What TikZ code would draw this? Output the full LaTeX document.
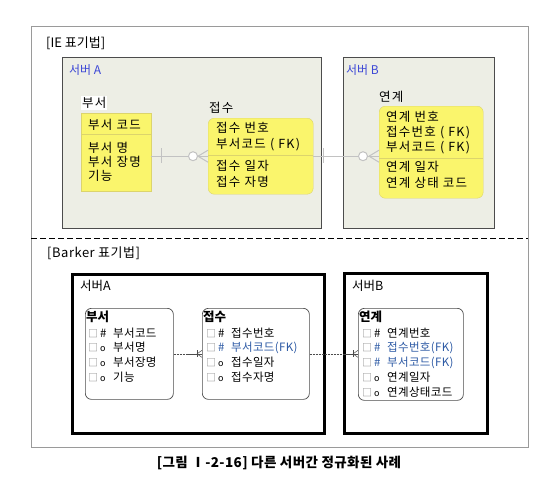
\documentclass[tikz,border=0pt]{standalone}
\usepackage{fontspec}
\setmainfont{Noto Sans CJK KR}
\usetikzlibrary{calc}
\definecolor{ieyellow}{HTML}{FAF56C}
\definecolor{ieedge}{HTML}{DCD46C}
\definecolor{iegray}{HTML}{EDEEE5}
\definecolor{ierel}{HTML}{C2C2C2}
\definecolor{ieblue}{HTML}{3C47D6}
\definecolor{bkblue}{HTML}{2D5AA5}
\definecolor{framegray}{HTML}{9A9A9A}
\newcommand{\iefont}{\fontsize{12.5}{16}\selectfont\addfontfeature{LetterSpace=10}}
\newcommand{\bkfont}{\fontsize{11.5}{14.7}\selectfont\addfontfeature{LetterSpace=3}}
\newcommand{\sq}{{\color{gray}\fontsize{10}{10}\selectfont □}\hspace{2pt}}
\newcommand{\pk}{\makebox[13pt][l]{\#}}
\newcommand{\opt}{\makebox[13pt][l]{\fontsize{9}{9}\selectfont o}}

\begin{document}
\begin{tikzpicture}[x=1pt,y=-1pt,
  ieserv/.style={draw=black!70, line width=1.3pt, fill=iegray, anchor=north west, inner sep=0},
  ient/.style={draw=ieedge, fill=ieyellow, anchor=north west, inner sep=0},
  ietext/.style={anchor=north west, inner sep=0, align=left, font=\iefont},
  bkserv/.style={draw=black, line width=3pt, anchor=north west, inner sep=0},
  bkent/.style={draw=black!70, line width=0.7pt, rounded corners=6pt, fill=white, anchor=north west, inner sep=0},
  bktext/.style={anchor=north west, inner sep=0, align=left, font=\bkfont},
  rel/.style={draw=ierel, line width=1pt},
  bkrel/.style={draw=black!70, line width=0.5pt}]
  \useasboundingbox (0,0) rectangle (554,487);

  % frame and separator
  \draw[framegray, line width=1pt] (31,27) rectangle (528,447);
  \draw[line width=1pt, dash pattern=on 6pt off 3pt] (31,238) -- (528,238);
  \node[anchor=west, inner sep=0, font=\fontsize{13}{15}\selectfont] (ietitle) at (46,43) {[IE 표기법]};
  \node[anchor=west, inner sep=0, font=\fontsize{13}{15}\selectfont\addfontfeature{LetterSpace=4}] (bktitle) at (47,253) {[Barker 표기법]};

  % IE notation
  \node[ieserv, minimum width=259, minimum height=171] (ieA) at (62,57) {};
  \node[ieserv, minimum width=151, minimum height=171] (ieB) at (343,57) {};
  \node[anchor=west, inner sep=0, text=ieblue, font=\fontsize{12}{14}\selectfont] (ieAlab) at (69,70) {서버 A};
  \node[anchor=west, inner sep=0, text=ieblue, font=\fontsize{12}{14}\selectfont] (ieBlab) at (346,70) {서버 B};

  \node[ient, minimum width=70, minimum height=78] (bu) at (81,113) {};
  \node[ient, rounded corners=6pt, minimum width=105, minimum height=76] (js) at (208,118) {};
  \node[ient, rounded corners=6pt, minimum width=104, minimum height=92] (yg) at (379,106) {};
  \draw[ieedge] ($(bu.north west)+(0,21)$) -- ($(bu.north east)+(0,21)$);
  \draw[ieedge] ($(js.north west)+(0,37)$) -- ($(js.north east)+(0,37)$);
  \draw[ieedge] ($(yg.north west)+(0,52)$) -- ($(yg.north east)+(0,52)$);

  \node[anchor=west, fill=white, inner sep=1pt, font=\iefont] (bulab) at (81,103) {부서};
  \node[anchor=west, inner sep=0, font=\iefont] (jslab) at (209,108) {접수};
  \node[anchor=west, inner sep=0, font=\iefont] (yglab) at (379,97) {연계};

  \node[ietext] (bukey) at (88,119) {부서 코드};
  \node[ietext, font=\iefont\fontsize{12.5}{14}\selectfont] (buatt) at (88,142) {부서 명\\부서 장명\\기능};
  \node[ietext] (jskey) at (216,122) {접수 번호\\부서코드 ( FK)};
  \node[ietext] (jsatt) at (216,160) {접수 일자\\접수 자명};
  \node[ietext, font=\iefont\fontsize{12.5}{15}\selectfont] (ygkey) at (386,111) {연계 번호\\접수번호 ( FK)\\부서코드 ( FK)};
  \node[ietext] (ygatt) at (386,161) {연계 일자\\연계 상태 코드};

  % IE relationships
  \draw[rel] (js.west -| bu.east) -- (js.west);
  \draw[rel] ($(js.west -| bu.east)+(10,-8)$) -- ($(js.west -| bu.east)+(10,7)$);
  \draw[rel] ($(js.west)+(-10,0)$) -- ($(js.west)+(0,-6)$);
  \draw[rel] ($(js.west)+(-10,0)$) -- ($(js.west)+(0,6)$);
  \draw[rel, fill=white] ($(js.west)+(-15,0)$) circle (4.5);

  \draw[rel] (js.east) -- (js.east -| yg.west);
  \draw[rel] ($(js.east)+(10,-8)$) -- ($(js.east)+(10,7)$);
  \draw[rel] ($(js.east -| yg.west)+(-10,0)$) -- ($(js.east -| yg.west)+(0,-6)$);
  \draw[rel] ($(js.east -| yg.west)+(-10,0)$) -- ($(js.east -| yg.west)+(0,6)$);
  \draw[rel, fill=white] ($(js.east -| yg.west)+(-16,0)$) circle (4.5);

  % Barker notation
  \node[bkserv, minimum width=252, minimum height=159] (bkA) at (71,273) {};
  \node[bkserv, minimum width=143, minimum height=160] (bkB) at (343,272) {};
  \node[anchor=west, inner sep=0, font=\fontsize{12.5}{14}\selectfont] (bkAlab) at (80,286) {서버A};
  \node[anchor=west, inner sep=0, font=\fontsize{12.5}{14}\selectfont] (bkBlab) at (352,286) {서버B};

  \node[bkent, minimum width=88, minimum height=91] (bkbu) at (85,308) {};
  \node[bkent, minimum width=107, minimum height=91] (bkjs) at (202,308) {};
  \node[bkent, minimum width=105, minimum height=92] (bkyg) at (358,308) {};

  \node[bktext, font=\bfseries\fontsize{12.5}{14}\selectfont] (bkbut) at (86,311) {부서};
  \node[bktext, font=\bfseries\fontsize{12.5}{14}\selectfont] (bkjst) at (203,311) {접수};
  \node[bktext, font=\bfseries\fontsize{12.5}{14}\selectfont] (bkygt) at (359,311) {연계};
  \node[bktext] (bkbur) at (88,327.5) {\sq\pk 부서코드\\\sq\opt 부서명\\\sq\opt 부서장명\\\sq\opt 기능};
  \node[bktext] (bkjsr) at (206,327.5) {\sq\pk 접수번호\\\sq{\color{bkblue}\pk 부서코드(FK)}\\\sq\opt 접수일자\\\sq\opt 접수자명};
  \node[bktext] (bkygr) at (362,327.5) {\sq\pk 연계번호\\\sq{\color{bkblue}\pk 접수번호(FK)}\\\sq{\color{bkblue}\pk 부서코드(FK)}\\\sq\opt 연계일자\\\sq\opt 연계상태코드};

  % Barker relationships
  \draw[bkrel, dash pattern=on 2pt off 1pt] (bkbu.east) -- ($(bkjs.west)+(-14,0)$);
  \draw[bkrel] ($(bkjs.west)+(-14,0)$) -- (bkjs.west);
  \draw[bkrel] ($(bkjs.west)+(-5,-3.5)$) -- ($(bkjs.west)+(-5,3.5)$);
  \draw[bkrel] ($(bkjs.west)+(-5,0)$) -- ($(bkjs.west)+(0,-3.5)$);
  \draw[bkrel] ($(bkjs.west)+(-5,0)$) -- ($(bkjs.west)+(0,3.5)$);

  \draw[bkrel, dash pattern=on 2pt off 1pt] (bkjs.east) -- ($(bkjs.east -| bkyg.west)+(-14,0)$);
  \draw[bkrel] ($(bkjs.east -| bkyg.west)+(-14,0)$) -- (bkjs.east -| bkyg.west);
  \draw[bkrel] ($(bkjs.east -| bkyg.west)+(-5,-3.5)$) -- ($(bkjs.east -| bkyg.west)+(-5,3.5)$);
  \draw[bkrel] ($(bkjs.east -| bkyg.west)+(-5,0)$) -- ($(bkjs.east -| bkyg.west)+(0,-3.5)$);
  \draw[bkrel] ($(bkjs.east -| bkyg.west)+(-5,0)$) -- ($(bkjs.east -| bkyg.west)+(0,3.5)$);

  % caption
  \node[font=\bfseries\fontsize{13.5}{15}\selectfont\addfontfeature{LetterSpace=3}] (caption) at (279,463) {[그림 Ⅰ-2-16] 다른 서버간 정규화된 사례};
\end{tikzpicture}
\end{document}
